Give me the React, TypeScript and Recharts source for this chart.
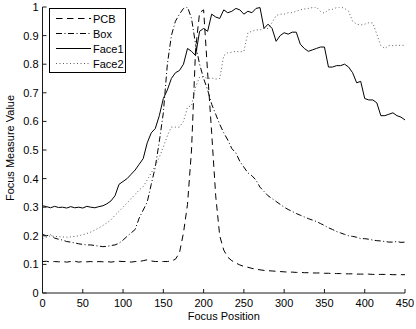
import React from 'react';
import { LineChart, Line, XAxis, YAxis, Label } from 'recharts';

const positions = [
  0, 5, 10, 15, 20, 25, 30, 35, 40, 45,
  50, 55, 60, 65, 70, 75, 80, 85, 90, 95,
  100, 105, 110, 115, 120, 125, 130, 135, 140, 145,
  150, 155, 160, 165, 170, 175, 180, 185, 190, 195,
  200, 205, 210, 215, 220, 225, 230, 235, 240, 245,
  250, 255, 260, 265, 270, 275, 280, 285, 290, 295,
  300, 305, 310, 315, 320, 325, 330, 335, 340, 345,
  350, 355, 360, 365, 370, 375, 380, 385, 390, 395,
  400, 405, 410, 415, 420, 425, 430, 435, 440, 445,
  450,
];

const pcb = [
  0.110, 0.111, 0.108, 0.110, 0.109, 0.110, 0.108, 0.110, 0.111, 0.108,
  0.110, 0.109, 0.110, 0.108, 0.110, 0.109, 0.110, 0.108, 0.110, 0.111,
  0.110, 0.110, 0.108, 0.110, 0.110, 0.113, 0.116, 0.112, 0.110, 0.110,
  0.110, 0.110, 0.112, 0.118, 0.140, 0.210, 0.310, 0.500, 0.850, 0.980,
  0.990, 0.770, 0.560, 0.340, 0.200, 0.150, 0.125, 0.113, 0.105, 0.098,
  0.093, 0.090, 0.086, 0.083, 0.081, 0.079, 0.078, 0.077, 0.076, 0.075,
  0.074, 0.073, 0.073, 0.072, 0.072, 0.071, 0.071, 0.070, 0.070, 0.070,
  0.069, 0.069, 0.068, 0.068, 0.068, 0.067, 0.067, 0.067, 0.066, 0.066,
  0.066, 0.066, 0.065, 0.065, 0.065, 0.065, 0.065, 0.064, 0.064, 0.064,
  0.064,
];

const box = [
  0.205, 0.200, 0.204, 0.192, 0.188, 0.185, 0.180, 0.178, 0.175, 0.172,
  0.170, 0.168, 0.168, 0.166, 0.164, 0.162, 0.163, 0.166, 0.168, 0.174,
  0.185, 0.198, 0.210, 0.222, 0.262, 0.290, 0.318, 0.380, 0.440, 0.530,
  0.630, 0.800, 0.900, 0.950, 0.975, 0.995, 1.000, 0.960, 0.870, 0.800,
  0.750, 0.710, 0.660, 0.625, 0.590, 0.560, 0.535, 0.505, 0.490, 0.460,
  0.440, 0.420, 0.410, 0.395, 0.370, 0.355, 0.340, 0.330, 0.320, 0.310,
  0.300, 0.292, 0.285, 0.278, 0.272, 0.266, 0.260, 0.255, 0.250, 0.243,
  0.236, 0.228, 0.222, 0.215, 0.210, 0.205, 0.200, 0.198, 0.195, 0.190,
  0.190, 0.188, 0.185, 0.183, 0.182, 0.180, 0.178, 0.178, 0.180, 0.177,
  0.178,
];

const face1 = [
  0.305, 0.302, 0.298, 0.303, 0.299, 0.300, 0.297, 0.302, 0.298, 0.300,
  0.297, 0.303, 0.300, 0.298, 0.302, 0.305, 0.312, 0.322, 0.340, 0.380,
  0.390, 0.400, 0.415, 0.430, 0.450, 0.470, 0.525, 0.560, 0.575, 0.620,
  0.680, 0.710, 0.750, 0.770, 0.778, 0.800, 0.855, 0.845, 0.830, 0.915,
  0.925, 0.915, 0.975, 0.965, 0.960, 0.990, 0.980, 0.985, 0.995, 0.990,
  0.975, 0.985, 0.980, 0.995, 0.998, 0.925, 0.940, 0.925, 0.880, 0.900,
  0.910, 0.905, 0.912, 0.912, 0.870, 0.855, 0.845, 0.850, 0.855, 0.860,
  0.860, 0.790, 0.790, 0.795, 0.795, 0.800, 0.790, 0.770, 0.735, 0.740,
  0.680, 0.675, 0.675, 0.665, 0.620, 0.620, 0.625, 0.630, 0.620, 0.615,
  0.605,
];

const face2 = [
  0.190, 0.195, 0.200, 0.198, 0.197, 0.196, 0.195, 0.196, 0.198, 0.200,
  0.204, 0.208, 0.213, 0.220, 0.228, 0.236, 0.245, 0.256, 0.272, 0.285,
  0.300, 0.315, 0.330, 0.345, 0.360, 0.372, 0.395, 0.420, 0.445, 0.475,
  0.510, 0.550, 0.580, 0.580, 0.580, 0.600, 0.650, 0.655, 0.720, 0.755,
  0.755, 0.750, 0.752, 0.748, 0.750, 0.830, 0.840, 0.842, 0.845, 0.843,
  0.845, 0.910, 0.915, 0.920, 0.920, 0.925, 0.925, 0.945, 0.970, 0.975,
  0.975, 0.980, 0.980, 0.985, 0.990, 0.993, 0.995, 0.998, 1.000, 0.985,
  0.978, 0.990, 0.992, 0.998, 1.000, 0.995, 0.985, 0.950, 0.940, 0.937,
  0.940, 0.945, 0.944, 0.905, 0.865, 0.855, 0.865, 0.865, 0.866, 0.866,
  0.866,
];

const xTicks = [0, 50, 100, 150, 200, 250, 300, 350, 400, 450];
const yTicks = [0, 0.1, 0.2, 0.3, 0.4, 0.5, 0.6, 0.7, 0.8, 0.9, 1];
const yTickLabels = ['0', '0.1', '0.2', '0.3', '0.4', '0.5', '0.6', '0.7', '0.8', '0.9', '1'];

const seriesNames = ['PCB', 'Box', 'Face1', 'Face2'];
const seriesKeys = ['pcb', 'box', 'face1', 'face2'];
const seriesDash = ['6.5 4.5', '6 2.5 1 2.5', '', '1 2.5'];
const seriesWidth = [1, 1, 1, 0.8];
const seriesColor = ['#000', '#000', '#000', '#333'];

const data = positions.map((p, i) => ({
  pos: p,
  pcb: pcb[i],
  box: box[i],
  face1: face1[i],
  face2: face2[i],
}));

const FONT = '"Liberation Sans", Arial, Helvetica, sans-serif';
const AXIS_COLOR = '#1a1a1a';

const YTick = (props: any) => {
  const { x, y, payload } = props;
  const idx = yTicks.indexOf(payload.value);
  const label = idx >= 0 ? yTickLabels[idx] : String(payload.value);
  return (
    <g>
      <line x1={x + 4} x2={x + 8} y1={y} y2={y} stroke={AXIS_COLOR} strokeWidth={1} />
      <text x={x} y={y} dy={4} textAnchor="end" fontSize={11} fontFamily={FONT} fill="#000">
        {label}
      </text>
    </g>
  );
};

const XTick = (props: any) => {
  const { x, y, payload } = props;
  return (
    <g>
      <line x1={x} x2={x} y1={y - 4} y2={y - 8} stroke={AXIS_COLOR} strokeWidth={1} />
      <text x={x} y={y} dy={10} textAnchor="middle" fontSize={11} fontFamily={FONT} fill="#000">
        {String(payload.value)}
      </text>
    </g>
  );
};

const LegendBox = () => (
  <svg width={78} height={66} style={{ display: 'block' }}>
    <rect x={0.5} y={0.5} width={76} height={64} fill="#fff" stroke="#000" strokeWidth={1} />
    {seriesNames.map((name, i) => {
      const cy = 10.5 + i * 15;
      return (
        <g key={name}>
          <line
            x1={7}
            x2={42}
            y1={cy}
            y2={cy}
            stroke={seriesColor[i]}
            strokeWidth={seriesWidth[i]}
            strokeDasharray={seriesDash[i] || undefined}
          />
          <text x={44} y={cy} dy={4} fontSize={11} fontFamily={FONT} fill="#000">
            {name}
          </text>
        </g>
      );
    })}
  </svg>
);

export default function App() {
  return (
    <div style={{ position: 'absolute', left: 0, top: 0, width: 416, height: 329, background: '#fff' }}>
      <LineChart
        width={416}
        height={329}
        data={data}
        margin={{ top: 7, right: 11, bottom: 0, left: 0 }}
      >
        <XAxis
          dataKey="pos"
          type="number"
          domain={[0, 450]}
          ticks={xTicks}
          interval={0}
          height={36}
          tickSize={0}
          tickMargin={4}
          tickLine={false}
          tick={<XTick />}
          axisLine={{ stroke: AXIS_COLOR, strokeWidth: 1 }}
          allowDataOverflow
        >
          <Label
            content={(p: any) => {
              const vb = p.viewBox;
              return (
                <text
                  x={vb.x + vb.width / 2}
                  y={vb.y + 27}
                  textAnchor="middle"
                  fontSize={11}
                  fontFamily={FONT}
                  fill="#000"
                >
                  Focus Position
                </text>
              );
            }}
          />
        </XAxis>
        <YAxis
          type="number"
          domain={[0, 1]}
          ticks={yTicks}
          interval={0}
          width={42.5}
          tickSize={0}
          tickMargin={4}
          tickLine={false}
          tick={<YTick />}
          axisLine={{ stroke: AXIS_COLOR, strokeWidth: 1 }}
          allowDataOverflow
        >
          <Label
            content={(p: any) => {
              const vb = p.viewBox;
              const cy = vb.y + vb.height / 2 - 2;
              return (
                <text
                  x={13.5}
                  y={cy}
                  transform={`rotate(-90, 13.5, ${cy})`}
                  textAnchor="middle"
                  fontSize={11}
                  fontFamily={FONT}
                  fill="#000"
                >
                  Focus Measure Value
                </text>
              );
            }}
          />
        </YAxis>
        {seriesKeys.map((k, i) => (
          <Line
            key={k}
            dataKey={k}
            name={seriesNames[i]}
            type="linear"
            stroke={seriesColor[i]}
            strokeWidth={seriesWidth[i]}
            strokeDasharray={seriesDash[i] || undefined}
            dot={false}
            activeDot={false}
            isAnimationActive={false}
          />
        ))}
      </LineChart>
      <div style={{ position: 'absolute', left: 49, top: 8, width: 78, height: 66 }}>
        <LegendBox />
      </div>
    </div>
  );
}
